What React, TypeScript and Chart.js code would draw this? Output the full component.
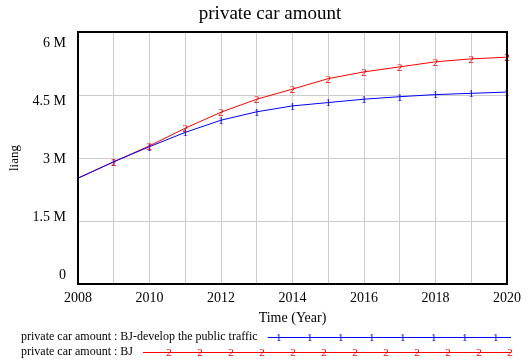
import React, { useEffect, useRef } from "react";
import { Chart, registerables } from "chart.js";

Chart.register(...registerables);

const years = [2008, 2009, 2010, 2011, 2012, 2013, 2014, 2015, 2016, 2017, 2018, 2019, 2020];
const developPublicTraffic = [2520000, 2910000, 3270000, 3610000, 3900000, 4100000, 4240000, 4320000, 4400000, 4460000, 4510000, 4540000, 4570000];
const bj = [2520000, 2910000, 3290000, 3710000, 4090000, 4400000, 4640000, 4890000, 5050000, 5170000, 5290000, 5360000, 5400000];
const seriesNames = [
  "private car amount : BJ-develop the public traffic",
  "private car amount : BJ",
];
const seriesGlyphs = ["1", "2"];
const seriesColors = ["#0000ff", "#ff0000"];
const yTickValues = [6000000, 4500000, 3000000, 1500000, 0];
const yTickLabels = ["6 M", "4.5 M", "3 M", "1.5 M", "0"];
const titleText = "private car amount";
const xTitle = "Time (Year)";
const yTitle = "liang";

const FONT = '"Liberation Serif", "Times New Roman", serif';

const overlay = {
  id: "overlay",
  afterDatasetsDraw(chart: any) {
    const ctx = chart.ctx;
    const { left, right, top, bottom } = chart.chartArea;
    ctx.save();
    // markers
    ctx.font = `11px ${FONT}`;
    ctx.textAlign = "center";
    ctx.textBaseline = "middle";
    chart.data.datasets.forEach((ds: any, di: number) => {
      const meta = chart.getDatasetMeta(di);
      ctx.fillStyle = ds.borderColor;
      meta.data.forEach((pt: any, i: number) => {
        if (i === 0) return;
        ctx.fillText(seriesGlyphs[di], pt.x, pt.y + 1);
      });
    });
    // border
    ctx.strokeStyle = "#000";
    ctx.lineWidth = 2;
    ctx.strokeRect(left, top, right - left, bottom - top);

    // title
    ctx.fillStyle = "#000";
    ctx.font = `19px ${FONT}`;
    ctx.textAlign = "center";
    ctx.textBaseline = "middle";
    ctx.fillText(titleText, chart.width / 2 + 6, 14);

    // y tick labels
    const yScale = chart.scales.y;
    ctx.font = `14px ${FONT}`;
    ctx.textAlign = "right";
    const h = bottom - top;
    yTickValues.forEach((v, i) => {
      const frac = (yScale.max - v) / (yScale.max - yScale.min);
      const y = top + 11 + frac * (h - 20);
      ctx.fillText(yTickLabels[i], left - 12, y);
    });

    // x title
    ctx.textAlign = "center";
    ctx.fillText(xTitle, (left + right) / 2, 318);

    // y title
    ctx.save();
    ctx.translate(15, (top + bottom) / 2);
    ctx.rotate(-Math.PI / 2);
    ctx.font = `13px ${FONT}`;
    ctx.fillText(yTitle, 0, 0);
    ctx.restore();

    // legend
    const rows = [337, 352];
    const glyphOffsets = [11, 26];
    ctx.font = `12px ${FONT}`;
    seriesNames.forEach((name, i) => {
      const y = rows[i];
      ctx.fillStyle = "#000";
      ctx.textAlign = "left";
      ctx.textBaseline = "middle";
      ctx.fillText(name, 21, y);
      const w = ctx.measureText(name).width;
      const x0 = 21 + w + 10;
      const x1 = 511;
      ctx.strokeStyle = seriesColors[i];
      ctx.lineWidth = 1;
      ctx.beginPath();
      ctx.moveTo(x0, y + 0.5);
      ctx.lineTo(x1, y + 0.5);
      ctx.stroke();
      ctx.fillStyle = seriesColors[i];
      ctx.textAlign = "center";
      ctx.font = `11px ${FONT}`;
      for (let x = x0 + glyphOffsets[i]; x <= x1 + 1; x += 31) {
        ctx.fillText(seriesGlyphs[i], x, y + 1);
      }
      ctx.font = `12px ${FONT}`;
    });
    ctx.restore();
  },
};

export default function App() {
  const ref = useRef<HTMLCanvasElement>(null);
  useEffect(() => {
    document.body.style.margin = "0";
    const canvas = ref.current!;
    const chart = new Chart(canvas, {
      type: "line",
      data: {
        datasets: [developPublicTraffic, bj].map((vals, i) => ({
          label: seriesNames[i],
          data: years.map((x, j) => ({ x, y: vals[j] })),
          borderColor: seriesColors[i],
          backgroundColor: seriesColors[i],
          borderWidth: 1,
          pointRadius: 0,
          tension: 0,
          fill: false,
        })),
      },
      options: {
        animation: false,
        responsive: false,
        maintainAspectRatio: false,
        layout: { padding: { top: 32, right: 21, left: 0, bottom: 0 } },
        plugins: { legend: { display: false }, tooltip: { enabled: false }, title: { display: false } },
        scales: {
          x: {
            type: "linear",
            min: 2008,
            max: 2020,
            afterFit: (s: any) => { s.height = 78; },
            grid: { color: "#cccccc", lineWidth: 1, drawTicks: false },
            border: { display: false },
            ticks: {
              stepSize: 1,
              autoSkip: false,
              maxRotation: 0,
              padding: 6,
              color: "#000",
              font: { family: FONT, size: 14 },
              callback: (v: any) => (Number(v) % 2 === 0 ? String(v) : ""),
            },
          },
          y: {
            type: "linear",
            min: 0,
            max: 6000000,
            afterFit: (s: any) => { s.width = 78; },
            grid: { color: "#cccccc", lineWidth: 1, drawTicks: false },
            border: { display: false },
            ticks: { stepSize: 1500000, display: false },
          },
        },
      },
      plugins: [overlay],
    } as any);
    return () => chart.destroy();
  }, []);
  return <canvas ref={ref} width={528} height={362} style={{ display: "block" }} />;
}
